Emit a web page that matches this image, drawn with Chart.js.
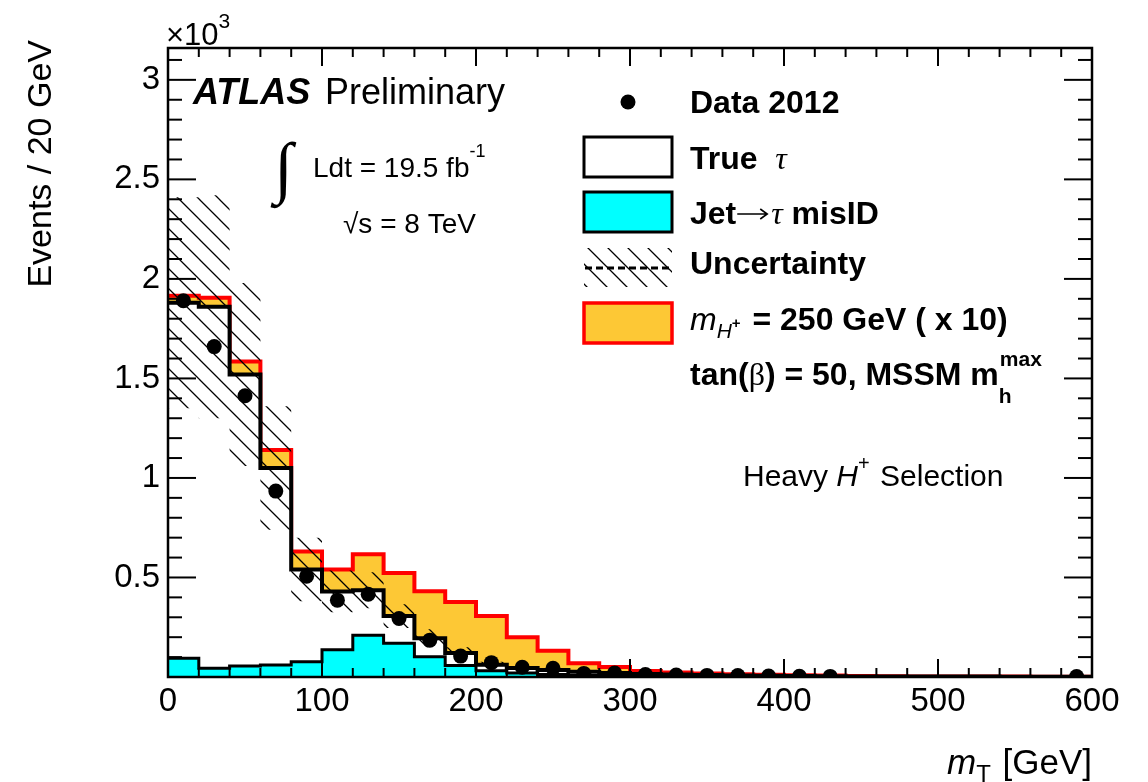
<!DOCTYPE html>
<html><head><meta charset="utf-8">
<script src="https://cdn.jsdelivr.net/npm/chart.js@4.4.1/dist/chart.umd.min.js"></script>
<style>html,body{margin:0;padding:0;background:#fff}canvas{display:block}</style>
</head><body>
<div style="width:1148px;height:782px;position:relative"><canvas id="c" width="1148" height="782"></canvas></div>
<script>
// ---- data (values in units of 10^3 events / 20 GeV) ----
const binEdges = [0,20,40,60,80,100,120,140,160,180,200,220,240,260,280,300,320,340,360,380,400,420,440,460,480,500,520,540,560,580,600];
const data2012 = [1.89,1.66,1.413,0.934,0.506,0.386,0.416,0.294,0.185,0.105,0.072,0.049,0.044,0.018,0.020,0.012,0.010,0.008,0.007,0.005,0.004,0.003,null,null,null,null,null,null,null,0.002];
const stackTrueTau = [1.880,1.860,1.520,1.050,0.540,0.430,0.436,0.306,0.195,0.120,0.062,0.045,0.035,0.027,0.020,0.015,0.012,0.010,0.008,0.006,0.005,0.004,0.003,0.003,0.002,0.002,0.002,0.001,0.001,0.001];
const jetMisID = [0.094,0.044,0.055,0.060,0.077,0.137,0.210,0.169,0.102,0.058,0.032,0.020,0.012,0.008,0.005,0.004,0.003,0.002,0.002,0.001,0.001,0.001,0.001,0.001,0.0005,0.0005,0.0005,0.0005,0.0005,0.0005];
const stackSignal = [1.915,1.905,1.585,1.140,0.630,0.540,0.617,0.523,0.431,0.377,0.306,0.200,0.132,0.069,0.050,0.030,0.022,0.017,0.014,0.011,0.009,0.007,0.005,0.004,0.003,0.003,0.002,0.002,0.001,0.001];
const uncertainty = [0.53,0.56,0.46,0.31,0.16,0.105,0.09,0.06,0.045,0.03,0.015,0.01,0.008,0.006,0.005,0.004,0.003,0.002,0.002,0.002,0.001,0.001,0.001,0.001,0.001,0.001,0.001,0.001,0.001,0.001];
const xTickValues = [0,100,200,300,400,500,600];
const yTickValues = [0.5,1,1.5,2,2.5,3];

const SANS = '"Liberation Sans", Arial, Helvetica, sans-serif';
const SERIF = '"Liberation Serif", "DejaVu Serif", serif';

function histPoints(vals){
  const p=[];
  vals.forEach((v,i)=>{ p.push({x:binEdges[i],y:v}); p.push({x:binEdges[i+1],y:v}); });
  return p;
}
const uncUp = stackTrueTau.map((v,i)=>v+uncertainty[i]);
const uncLow = stackTrueTau.map((v,i)=>Math.max(0,v-uncertainty[i]));
const dataPts = data2012.map((v,i)=>({x:(binEdges[i]+binEdges[i+1])/2, y:v}));

function makeHatch(){
  const s=20, c=document.createElement('canvas'); c.width=s; c.height=s;
  const g=c.getContext('2d'); g.strokeStyle='#000'; g.lineWidth=1.3; g.beginPath();
  g.moveTo(-2,-2); g.lineTo(s+2,s+2);
  g.moveTo(s-3,-3); g.lineTo(s+3,3);
  g.moveTo(-3,s-3); g.lineTo(3,s+3);
  g.stroke();
  return document.getElementById('c').getContext('2d').createPattern(c,'repeat');
}
const hatch = makeHatch();

function drawRuns(ctx, x, y, parts, align){
  let w=0;
  parts.forEach(p=>{ ctx.font=p[1]; w+=ctx.measureText(p[0]).width+(p[3]||0); });
  let cx = align==='right' ? x-w : x;
  ctx.textAlign='left'; ctx.textBaseline='alphabetic';
  parts.forEach(p=>{ ctx.font=p[1]; ctx.fillText(p[0], cx, y+(p[2]||0)); cx+=ctx.measureText(p[0]).width+(p[3]||0); });
  return cx;
}

const deco = {
  id:'deco',
  afterDatasetsDraw(chart){
    const {ctx, chartArea:a, scales:{x,y}} = chart;
    ctx.save();
    ctx.strokeStyle='#000'; ctx.lineWidth=2;
    const seg=(x1,y1,x2,y2)=>{ctx.beginPath();ctx.moveTo(x1,y1);ctx.lineTo(x2,y2);ctx.stroke();};
    for(let k=0;k<=30;k++){
      const v=k*20, px=x.getPixelForValue(v), L=(v%100===0)?18:9;
      seg(px,a.bottom,px,a.bottom-L); seg(px,a.top,px,a.top+L);
    }
    for(let k=0;k<=31;k++){
      const v=k/10; if(v>y.max) break;
      const py=y.getPixelForValue(v), L=(k%5===0)?28:14;
      seg(a.left,py,a.left+L,py); seg(a.right,py,a.right-L,py);
    }
    ctx.lineWidth=2.5;
    ctx.strokeRect(a.left,a.top,a.right-a.left,a.bottom-a.top);
    ctx.restore();
  },
  afterDraw(chart){
    const ctx = chart.ctx;
    ctx.save(); ctx.fillStyle='#000';
    // x10^3
    drawRuns(ctx,166,45,[['×10','31px '+SANS],['3','21px '+SANS,-17,1]]);
    // y title
    ctx.save(); ctx.translate(51,40); ctx.rotate(-Math.PI/2);
    ctx.font='34px '+SANS; ctx.textAlign='right'; ctx.textBaseline='alphabetic';
    ctx.fillText('Events / 20 GeV',0,0); ctx.restore();
    // x title
    drawRuns(ctx,1092,774,[['m','italic 35px '+SANS],['T','24px '+SANS,8,2],[' [GeV]','35px '+SANS]],'right');
    // ATLAS
    drawRuns(ctx,193,104,[['ATLAS','italic bold 36px '+SANS]]);
    drawRuns(ctx,325,104,[['Preliminary','36px '+SANS]]);
    ctx.font='bold 68px '+SERIF; ctx.textAlign='left'; ctx.textBaseline='alphabetic';
    ctx.fillText('∫',274,190);
    drawRuns(ctx,313,177,[['Ldt = 19.5 fb','28px '+SANS],['-1','18px '+SANS,-20,1]]);
    drawRuns(ctx,343,233,[['√','28px '+SANS],['s = 8 TeV','28px '+SANS]]);
    drawRuns(ctx,743,486,[['Heavy ','30px '+SANS],['H','italic 30px '+SANS],['+','20px '+SANS,-16,2],[' Selection','30px '+SANS]]);
    // legend
    const B='bold 32px '+SANS;
    ctx.beginPath(); ctx.arc(628,102,7.5,0,Math.PI*2); ctx.fill();
    drawRuns(ctx,690,113,[['Data 2012',B]]);
    ctx.lineWidth=3; ctx.strokeStyle='#000';
    ctx.fillStyle='#fff'; ctx.fillRect(584,137,88,40); ctx.strokeRect(584,137,88,40);
    ctx.fillStyle='#000';
    drawRuns(ctx,690,169,[['True  ',B],['τ','italic 32px '+SERIF]]);
    ctx.fillStyle='#00ffff'; ctx.fillRect(584,192,88,40); ctx.strokeRect(584,192,88,40);
    ctx.fillStyle='#000';
    const ax = drawRuns(ctx,690,224,[['Jet',B]]);
    // arrow
    ctx.save(); ctx.lineWidth=1.6; ctx.beginPath();
    ctx.moveTo(ax+1,214); ctx.lineTo(ax+31,214);
    ctx.moveTo(ax+24,209); ctx.lineTo(ax+31,214); ctx.lineTo(ax+24,219);
    ctx.stroke(); ctx.restore();
    drawRuns(ctx,ax+35,224,[['τ','italic 32px '+SERIF],[' misID',B]]);
    ctx.save(); ctx.beginPath(); ctx.rect(584,248,88,39); ctx.clip();
    ctx.fillStyle=hatch; ctx.fillRect(584,248,88,39); ctx.restore();
    ctx.save(); ctx.setLineDash([7,4]); ctx.lineWidth=3; ctx.beginPath(); ctx.moveTo(585,268); ctx.lineTo(672,268); ctx.stroke(); ctx.restore();
    drawRuns(ctx,690,274,[['Uncertainty',B]]);
    ctx.fillStyle='#fdc835'; ctx.fillRect(584,303,88,40);
    ctx.strokeStyle='#ff0000'; ctx.lineWidth=3.5; ctx.strokeRect(584,303,88,40);
    ctx.fillStyle='#000';
    drawRuns(ctx,690,330,[['m','italic 32px '+SANS],['H','italic 21px '+SANS,8],['+','bold 15px '+SANS,-2,3],[' = 250 GeV ( x 10)',B]]);
    const xe = drawRuns(ctx,690,385,[['tan(',B],['β','32px '+SERIF],[') = 50, MSSM m',B]]);
    drawRuns(ctx,xe+1,366,[['max','bold 21px '+SANS]]);
    drawRuns(ctx,xe,403,[['h','bold 21px '+SANS]]);
    ctx.restore();
  }
};

new Chart(document.getElementById('c'), {
  type:'line',
  data:{ datasets:[
    {label:'Data 2012', data:dataPts, showLine:false, pointRadius:7.5, pointBackgroundColor:'#000', pointBorderColor:'#000', pointBorderWidth:0, order:0},
    {label:'Uncertainty', data:histPoints(uncUp), borderWidth:0, borderColor:'rgba(0,0,0,0)', pointRadius:0, fill:'+1', backgroundColor:hatch, order:1},
    {label:'unc-low', data:histPoints(uncLow), borderWidth:0, borderColor:'rgba(0,0,0,0)', pointRadius:0, fill:false, order:1},
    {label:'Jet→τ misID', data:histPoints(jetMisID), borderColor:'#000', borderWidth:3, backgroundColor:'#00ffff', fill:'origin', pointRadius:0, order:2},
    {label:'True τ', data:histPoints(stackTrueTau), borderColor:'#000', borderWidth:4, backgroundColor:'#ffffff', fill:'origin', pointRadius:0, order:3},
    {label:'m_H+ = 250 GeV', data:histPoints(stackSignal), borderColor:'#ff0000', borderWidth:4, backgroundColor:'#fdc835', fill:'origin', pointRadius:0, order:4}
  ]},
  options:{
    responsive:false, animation:false, events:[],
    layout:{padding:{top:48,right:56,left:0,bottom:0}},
    elements:{line:{borderJoinStyle:'miter',borderCapStyle:'butt',tension:0}},
    plugins:{legend:{display:false},tooltip:{enabled:false},filler:{propagate:false}},
    scales:{
      x:{type:'linear',min:0,max:600,offset:false,
        grid:{display:false,drawTicks:false}, border:{display:false},
        afterBuildTicks(s){ s.ticks = xTickValues.map(v=>({value:v})); },
        afterFit(s){ s.height=105; },
        ticks:{color:'#000',font:{family:'Liberation Sans',size:33},padding:5,maxRotation:0,autoSkip:false,callback:v=>String(v)}},
      y:{type:'linear',min:0,max:3.16,
        grid:{display:false,drawTicks:false}, border:{display:false},
        afterBuildTicks(s){ s.ticks = yTickValues.map(v=>({value:v})); },
        afterFit(s){ s.width=168; },
        ticks:{color:'#000',font:{family:'Liberation Sans',size:33},padding:8,autoSkip:false,callback:v=>String(v)}}
    }
  },
  plugins:[deco]
});
</script>
</body></html>
